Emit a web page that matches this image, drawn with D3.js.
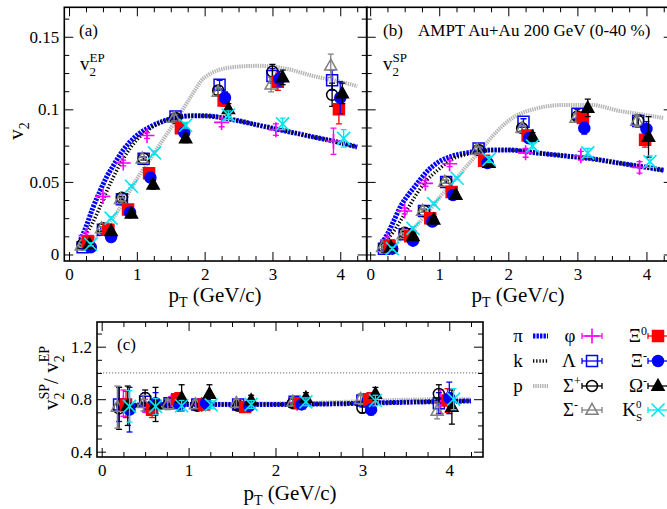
<!DOCTYPE html>
<html><head><meta charset="utf-8">
<script src="https://cdn.jsdelivr.net/npm/d3@7"></script>
<style>
body{margin:0;background:#fff}
svg text{font-family:"Liberation Serif","Times New Roman",serif;fill:#000}
</style></head><body>
<svg id="fig" width="667" height="509"></svg>
<script>
// ---- hydro-like reference curves for pi, k, p ----
const curvePt = [0.17,0.25,0.35,0.45,0.55,0.65,0.8,1.0,1.2,1.4,1.6,1.8,2.0,2.4,2.8,3.2,3.6,4.0,4.25];
const piEP = [0.010,0.019,0.032,0.043,0.053,0.061,0.072,0.082,0.088,0.092,0.0945,0.0955,0.0955,0.093,0.089,0.085,0.081,0.077,0.074];
const kEP  = [0.008,0.014,0.022,0.032,0.043,0.053,0.066,0.079,0.087,0.092,0.0945,0.0955,0.0955,0.093,0.089,0.085,0.081,0.077,0.074];
const pEP  = [0.003,0.006,0.010,0.014,0.019,0.025,0.036,0.052,0.066,0.080,0.094,0.109,0.122,0.129,0.130,0.128,0.123,0.119,0.116];
const piSP = [0.008,0.014,0.024,0.034,0.041,0.047,0.056,0.064,0.068,0.070,0.0715,0.072,0.072,0.070,0.068,0.066,0.063,0.060,0.058];
const kSP  = [0.006,0.0105,0.0165,0.024,0.032,0.040,0.050,0.059,0.066,0.069,0.071,0.072,0.072,0.070,0.068,0.066,0.063,0.060,0.058];
const pSP  = [0.002,0.0045,0.0075,0.011,0.015,0.019,0.027,0.039,0.050,0.061,0.072,0.083,0.092,0.1005,0.103,0.103,0.099,0.096,0.094];
const piR  = [0.74,0.745,0.75,0.755,0.757,0.758,0.76,0.76,0.76,0.76,0.76,0.76,0.76,0.762,0.766,0.772,0.778,0.783,0.787];
const kR   = [0.75,0.752,0.754,0.756,0.758,0.759,0.76,0.76,0.76,0.76,0.76,0.76,0.76,0.762,0.766,0.772,0.778,0.783,0.787];
const pR   = [0.76,0.762,0.764,0.765,0.766,0.766,0.766,0.765,0.765,0.765,0.766,0.767,0.768,0.772,0.78,0.79,0.797,0.8,0.8];

// ---- identified particles: pT, v2{EP}, v2{SP}, ratio SP/EP, with errors ----
const phiPt  = [0.25,0.5,0.8,1.15,2.25,3.05,3.9];
const phiEP  = [0.013,0.040,0.063,0.082,0.091,0.086,0.078];
const phiEPe = [0.002,0.002,0.002,0.002,0.003,0.004,0.009];
const phiSP  = [0.010,0.030,0.049,0.0625,0.070,0.068,0.060];
const phiSPe = [0.002,0.002,0.002,0.002,0.003,0.003,0.004];
const phiR   = [0.77,0.75,0.78,0.76,0.77,0.79,0.78];
const phiRe  = [0.10,0.05,0.04,0.03,0.03,0.05,0.09];

const lamPt  = [0.2,0.5,0.78,1.1,1.57,2.22,3.0,3.88];
const lamEP  = [0.005,0.017,0.038,0.066,0.095,0.117,0.123,0.120];
const lamEPe = [0.001,0.001,0.001,0.001,0.002,0.003,0.005,0.007];
const lamSP  = [0.004,0.014,0.030,0.050,0.073,0.0915,0.097,0.092];
const lamSPe = [0.001,0.001,0.001,0.001,0.002,0.002,0.003,0.004];
const lamR   = [0.76,0.78,0.77,0.76,0.76,0.78,0.79,0.77];
const lamRe  = [0.13,0.07,0.04,0.03,0.03,0.04,0.05,0.08];

const sigpPt  = [0.2,0.5,0.78,1.1,1.57,2.2,3.0,3.88];
const sigpEP  = [0.007,0.018,0.039,0.066,0.094,0.113,0.126,0.110];
const sigpEPe = [0.001,0.001,0.001,0.001,0.002,0.003,0.005,0.008];
const sigpSP  = [0.005,0.015,0.030,0.050,0.072,0.087,0.095,0.092];
const sigpSPe = [0.001,0.001,0.001,0.001,0.002,0.002,0.003,0.004];
const sigpR   = [0.73,0.81,0.77,0.75,0.75,0.77,0.735,0.84];
const sigpRe  = [0.16,0.06,0.04,0.03,0.03,0.03,0.04,0.07];

const sigmPt  = [0.18,0.48,0.76,1.08,1.55,2.2,2.98,3.86];
const sigmEP  = [0.006,0.018,0.038,0.066,0.094,0.112,0.117,0.130];
const sigmEPe = [0.001,0.001,0.001,0.001,0.002,0.003,0.005,0.008];
const sigmSP  = [0.005,0.014,0.030,0.050,0.072,0.087,0.094,0.092];
const sigmSPe = [0.001,0.001,0.001,0.001,0.002,0.002,0.003,0.004];
const sigmR   = [0.74,0.77,0.76,0.76,0.77,0.78,0.80,0.71];
const sigmRe  = [0.16,0.06,0.04,0.03,0.03,0.03,0.04,0.06];

const xi0Pt  = [0.28,0.58,0.87,1.18,1.65,2.28,3.08,3.98];
const xi0EP  = [0.009,0.017,0.031,0.056,0.087,0.106,0.119,0.100];
const xi0EPe = [0.001,0.001,0.001,0.002,0.003,0.004,0.006,0.010];
const xi0SP  = [0.006,0.0125,0.025,0.043,0.0645,0.082,0.094,0.079];
const xi0SPe = [0.001,0.001,0.001,0.002,0.002,0.003,0.004,0.005];
const xi0R   = [0.76,0.72,0.80,0.76,0.74,0.77,0.80,0.79];
const xi0Re  = [0.10,0.06,0.05,0.04,0.03,0.03,0.05,0.09];

const ximPt  = [0.32,0.62,0.9,1.2,1.7,2.3,3.1,4.0];
const ximEP  = [0.005,0.012,0.029,0.053,0.084,0.108,0.121,0.108];
const ximEPe = [0.001,0.001,0.001,0.002,0.003,0.004,0.005,0.011];
const ximSP  = [0.004,0.0095,0.0227,0.041,0.063,0.080,0.087,0.0865];
const ximSPe = [0.001,0.001,0.001,0.002,0.002,0.003,0.004,0.005];
const ximR   = [0.72,0.77,0.76,0.77,0.75,0.76,0.72,0.81];
const ximRe  = [0.17,0.08,0.05,0.04,0.03,0.03,0.04,0.12];

const omPt  = [0.3,0.62,0.92,1.24,1.72,2.35,3.15,4.03];
const omEP  = [0.007,0.016,0.028,0.048,0.080,0.100,0.122,0.111];
const omEPe = [0.001,0.001,0.002,0.003,0.003,0.004,0.005,0.007];
const omSP  = [0.005,0.0125,0.024,0.041,0.063,0.081,0.101,0.081];
const omSPe = [0.001,0.001,0.002,0.002,0.002,0.003,0.006,0.014];
const omR   = [0.75,0.76,0.81,0.84,0.79,0.81,0.84,0.74];
const omRe  = [0.15,0.13,0.10,0.07,0.04,0.04,0.05,0.13];

const k0sPt  = [0.32,0.62,0.92,1.26,1.72,2.35,3.15,4.05];
const k0sEP  = [0.007,0.025,0.047,0.070,0.089,0.096,0.090,0.080];
const k0sEPe = [0.001,0.001,0.001,0.001,0.002,0.003,0.004,0.006];
const k0sSP  = [0.004,0.018,0.035,0.0525,0.0655,0.0748,0.070,0.064];
const k0sSPe = [0.001,0.001,0.001,0.001,0.002,0.002,0.003,0.004];
const k0sR   = [0.745,0.745,0.75,0.757,0.76,0.78,0.79,0.80];
const k0sRe  = [0.12,0.06,0.04,0.03,0.03,0.03,0.04,0.08];

// ---- tick values and labels ----
const xMajor = [0,1,2,3,4];
const xMinor = [0.25,0.5,0.75,1.25,1.5,1.75,2.25,2.5,2.75,3.25,3.5,3.75,4.25];
const v2Major = [0,0.05,0.1,0.15];
const v2Labels = ["0","0.05","0.1","0.15"];
const v2Minor = [0.0125,0.025,0.0375,0.0625,0.075,0.0875,0.1125,0.125,0.1375,0.1625];
const rMajor = [0.4,0.8,1.2];
const rLabels = ["0.4","0.8","1.2"];
const rMinor = [0.5,0.6,0.7,0.9,1.0,1.1,1.3];

const svg = d3.select("#fig");

const species = [
  {name:"phi",  pt:phiPt,  ep:phiEP,  epe:phiEPe,  sp:phiSP,  spe:phiSPe,  r:phiR,  re:phiRe,  shape:"plus",   color:"#ff00ff", fill:false},
  {name:"lam",  pt:lamPt,  ep:lamEP,  epe:lamEPe,  sp:lamSP,  spe:lamSPe,  r:lamR,  re:lamRe,  shape:"square", color:"#0000ff", fill:false},
  {name:"sigp", pt:sigpPt, ep:sigpEP, epe:sigpEPe, sp:sigpSP, spe:sigpSPe, r:sigpR, re:sigpRe, shape:"circle", color:"#000000", fill:false},
  {name:"sigm", pt:sigmPt, ep:sigmEP, epe:sigmEPe, sp:sigmSP, spe:sigmSPe, r:sigmR, re:sigmRe, shape:"tri",    color:"#808080", fill:false},
  {name:"xi0",  pt:xi0Pt,  ep:xi0EP,  epe:xi0EPe,  sp:xi0SP,  spe:xi0SPe,  r:xi0R,  re:xi0Re,  shape:"square", color:"#ff0000", fill:true},
  {name:"xim",  pt:ximPt,  ep:ximEP,  epe:ximEPe,  sp:ximSP,  spe:ximSPe,  r:ximR,  re:ximRe,  shape:"circle", color:"#0000ff", fill:true},
  {name:"om",   pt:omPt,   ep:omEP,   epe:omEPe,   sp:omSP,   spe:omSPe,   r:omR,   re:omRe,   shape:"tri",    color:"#000000", fill:true},
  {name:"k0s",  pt:k0sPt,  ep:k0sEP,  epe:k0sEPe,  sp:k0sSP,  spe:k0sSPe,  r:k0sR,  re:k0sRe,  shape:"x",      color:"#00e5ee", fill:false}
];

const curveStyles = [
  {key:"p",  color:"#b4b4b4", width:4,   dash:"1.4,0.9"},
  {key:"pi", color:"#0000ff", width:5,   dash:"2.4,1.1"},
  {key:"k",  color:"#000000", width:3.6, dash:"1.3,1.9"}
];

function markerPath(shape, s){
  const h = s/2;
  switch(shape){
    case "square": return `M${-h},${-h}H${h}V${h}H${-h}Z`;
    case "circle": return `M${h},0A${h},${h} 0 1,1 ${-h},0A${h},${h} 0 1,1 ${h},0Z`;
    case "tri": { const t = s*0.6; return `M0,${-t}L${h*1.1},${t*0.65}L${-h*1.1},${t*0.65}Z`; }
    case "plus": return `M${-h},0H${h}M0,${-h}V${h}`;
    case "x": return `M${-h},${-h}L${h},${h}M${-h},${h}L${h},${-h}`;
  }
}
function markerSize(shape){
  return {square:11, circle:11, tri:11, plus:15, x:13}[shape];
}
function drawMarker(g, sp, cx, cy){
  g.append("path")
    .attr("d", markerPath(sp.shape, markerSize(sp.shape)))
    .attr("transform", `translate(${cx},${cy})`)
    .attr("fill", sp.fill ? sp.color : "none")
    .attr("stroke", sp.color)
    .attr("stroke-width", sp.shape==="plus"||sp.shape==="x" ? 1.6 : 1.5);
}

function makePanel(o){
  const x = d3.scaleLinear().domain(o.xd).range([o.l, o.r]);
  const y = d3.scaleLinear().domain(o.yd).range([o.b, o.t]);
  const g = svg.append("g");
  const clipId = "clip" + o.id;
  svg.append("clipPath").attr("id", clipId).append("rect")
    .attr("x", o.l).attr("y", o.t).attr("width", o.r-o.l).attr("height", o.b-o.t);
  const plot = g.append("g").attr("clip-path", `url(#${clipId})`);

  // axes: ticks point inward on all four sides
  const axes = g.append("g").attr("class","axes");
  const mk = (gen, tr, vals, len, fmt, pad) => {
    const a = gen.tickValues(vals).tickSize(-len).tickPadding(pad||5);
    a.tickFormat(fmt || (() => ""));
    const ag = axes.append("g").attr("transform", tr).call(a);
    ag.select(".domain").remove();
    ag.selectAll("line").attr("stroke","#000").attr("stroke-width",1);
    ag.selectAll("text").attr("font-size", 17).attr("font-family","Liberation Serif, serif").attr("fill","#000");
    return ag;
  };
  const M = 9, m = 5;
  mk(d3.axisBottom(x), `translate(0,${o.b})`, xMajor, M, o.xLabels ? (d)=>String(d) : null, 7);
  mk(d3.axisBottom(x), `translate(0,${o.b})`, xMinor, m);
  mk(d3.axisTop(x), `translate(0,${o.t})`, xMajor, M);
  mk(d3.axisTop(x), `translate(0,${o.t})`, xMinor, m);
  mk(d3.axisLeft(y), `translate(${o.l},0)`, o.yMajor, M, o.yLabels ? ((d,i)=>o.yLabels[i]) : null, 5);
  mk(d3.axisLeft(y), `translate(${o.l},0)`, o.yMinor, m);
  mk(d3.axisRight(y), `translate(${o.r},0)`, o.yMajor, M);
  mk(d3.axisRight(y), `translate(${o.r},0)`, o.yMinor, m);

  g.append("rect").attr("x", o.l).attr("y", o.t).attr("width", o.r-o.l).attr("height", o.b-o.t)
    .attr("fill","none").attr("stroke","#000").attr("stroke-width",1.6);
  return {x, y, plot, g};
}

function drawCurves(P, series){
  const line = d3.line().x(d=>P.x(d[0])).y(d=>P.y(d[1])).curve(d3.curveMonotoneX);
  curveStyles.forEach(cs => {
    const vals = series[cs.key];
    P.plot.append("path")
      .attr("d", line(curvePt.map((p,i)=>[p, vals[i]])))
      .attr("fill","none").attr("stroke", cs.color).attr("stroke-width", cs.width)
      .attr("stroke-dasharray", cs.dash);
  });
}

function drawPoints(P, valKey, errKey){
  species.forEach(sp => {
    const gs = P.plot.append("g");
    sp.pt.forEach((pt,i) => {
      const cx = P.x(pt), v = sp[valKey][i], e = sp[errKey][i];
      const y0 = P.y(v - e), y1 = P.y(v + e), cy = P.y(v);
      gs.append("line").attr("x1",cx).attr("x2",cx).attr("y1",y0).attr("y2",y1)
        .attr("stroke", sp.color).attr("stroke-width",1.3);
      [y0,y1].forEach(yy => gs.append("line").attr("x1",cx-3).attr("x2",cx+3).attr("y1",yy).attr("y2",yy)
        .attr("stroke", sp.color).attr("stroke-width",1.3));
      drawMarker(gs, sp, cx, cy);
    });
  });
}

function addText(parent, x, y, parts, size, anchor, rotate){
  const t = parent.append("text").attr("font-size", size).attr("text-anchor", anchor||"start");
  if (rotate) t.attr("transform", `translate(${x},${y}) rotate(${rotate})`);
  else t.attr("x", x).attr("y", y);
  let shift = 0;
  parts.forEach(pp => {
    const ts = t.append("tspan").text(pp.t);
    const target = pp.dy || 0;
    if (target !== shift) { ts.attr("dy", target - shift); shift = target; }
    if (pp.s) ts.attr("font-size", pp.s);
    if (pp.dx) ts.attr("dx", pp.dx);
  });
  return t;
}

const yDom = [-0.0045, 0.1703];

// ---- panel (a): event-plane v2 ----
const A = makePanel({id:"a", l:64.3, r:366.7, t:7.3, b:261, xd:[-0.07,4.39], yd:yDom,
  yMajor:v2Major, yMinor:v2Minor, yLabels:v2Labels, xLabels:true});
drawCurves(A, {pi:piEP, k:kEP, p:pEP});
drawPoints(A, "ep", "epe");

// ---- panel (b): scalar-product v2 ----
const B = makePanel({id:"b", l:366.7, r:672.7, t:7.3, b:261, xd:[-0.05,4.38], yd:yDom,
  yMajor:v2Major, yMinor:v2Minor, yLabels:null, xLabels:true});
drawCurves(B, {pi:piSP, k:kSP, p:pSP});
drawPoints(B, "sp", "spe");

// ---- panel (c): ratio SP/EP ----
const C = makePanel({id:"c", l:97, r:483, t:322, b:457, xd:[-0.054,4.388], yd:[0.3596,1.388],
  yMajor:rMajor, yMinor:rMinor, yLabels:rLabels, xLabels:true});
C.plot.append("line").attr("x1",C.x(-0.054)).attr("x2",C.x(4.388)).attr("y1",C.y(1)).attr("y2",C.y(1))
  .attr("stroke","#888").attr("stroke-width",1.2).attr("stroke-dasharray","1.2,1.8");
drawCurves(C, {pi:piR, k:kR, p:pR});
drawPoints(C, "r", "re");

// ---- text labels ----
const T = svg.append("g");
addText(T, 79, 36, [{t:"(a)"}], 17);
addText(T, 80, 70, [{t:"v"},{t:"2",s:13,dy:6},{t:"EP",s:13,dy:-8,dx:-6.5}], 19);
addText(T, 383, 36, [{t:"(b)"}], 17);
addText(T, 418, 36, [{t:"AMPT Au+Au 200 GeV (0-40 %)"}], 17);
addText(T, 383, 70, [{t:"v"},{t:"2",s:13,dy:6},{t:"SP",s:13,dy:-8,dx:-6.5}], 19);
addText(T, 117, 350, [{t:"(c)"}], 17);

// y-axis titles
addText(T, 23, 131, [{t:"v"},{t:"2",s:14,dy:6}], 21, "middle", -90);
addText(T, 58, 378, [{t:"v"},{t:"2",s:14,dy:6},{t:"SP",s:14,dy:-9,dx:-7},{t:"/ v",dy:0},{t:"2",s:14,dy:6},{t:"EP",s:14,dy:-9,dx:-7}], 21, "middle", -90);

// x-axis titles
[[215,302],[518,302],[290,500]].forEach(([cx,by]) =>
  addText(T, cx, by, [{t:"p"},{t:"T",s:14,dy:5},{t:" (GeV/c)",dy:0}], 21, "middle"));

// ---- legend ----
const L = svg.append("g");
const legRows = [342, 367, 392, 416];
const legCurves = [["π","pi"],["k","k"],["p","p"]];
legCurves.forEach(([lab,key],i) => {
  const cs = curveStyles.find(c=>c.key===key);
  addText(L, 518, legRows[i], [{t:lab}], 19, "middle");
  L.append("line").attr("x1",533).attr("x2",548).attr("y1",legRows[i]-6).attr("y2",legRows[i]-6)
    .attr("stroke",cs.color).attr("stroke-width",cs.width).attr("stroke-dasharray",cs.dash);
});
function legMarker(sp, cx, cy){
  L.append("line").attr("x1",cx-10).attr("x2",cx+10).attr("y1",cy).attr("y2",cy).attr("stroke",sp.color).attr("stroke-width",1.3);
  [cx-10,cx+10].forEach(xx => L.append("line").attr("x1",xx).attr("x2",xx).attr("y1",cy-3).attr("y2",cy+3).attr("stroke",sp.color).attr("stroke-width",1.3));
  drawMarker(L, sp, cx, cy);
}
const sp = n => species.find(s=>s.name===n);
// column 2
addText(L, 570, legRows[0], [{t:"φ"}], 19, "middle");
addText(L, 569, legRows[1], [{t:"Λ"}], 19, "middle");
addText(L, 563, legRows[2], [{t:"Σ"},{t:"+",s:12,dy:-7}], 19);
addText(L, 563, legRows[3], [{t:"Σ"},{t:"-",s:12,dy:-7}], 19);
legMarker(sp("phi"), 592, legRows[0]-6);
legMarker(sp("lam"), 592, legRows[1]-6);
legMarker(sp("sigp"), 592, legRows[2]-6);
legMarker(sp("sigm"), 592, legRows[3]-6);
// column 3
addText(L, 647, legRows[0], [{t:"Ξ"},{t:"0",s:12,dy:-7}], 19, "end");
addText(L, 647, legRows[1], [{t:"Ξ"},{t:"-",s:12,dy:-7}], 19, "end");
addText(L, 647, legRows[2], [{t:"Ω"},{t:"-",s:12,dy:-7}], 19, "end");
addText(L, 642, legRows[3], [{t:"K"},{t:"0",s:11,dy:-8},{t:"S",s:11,dy:5,dx:-5.5}], 19, "end");
legMarker(sp("xi0"), 658, legRows[0]-6);
legMarker(sp("xim"), 658, legRows[1]-6);
legMarker(sp("om"), 658, legRows[2]-6);
legMarker(sp("k0s"), 658, legRows[3]-6);
</script>
</body></html>
